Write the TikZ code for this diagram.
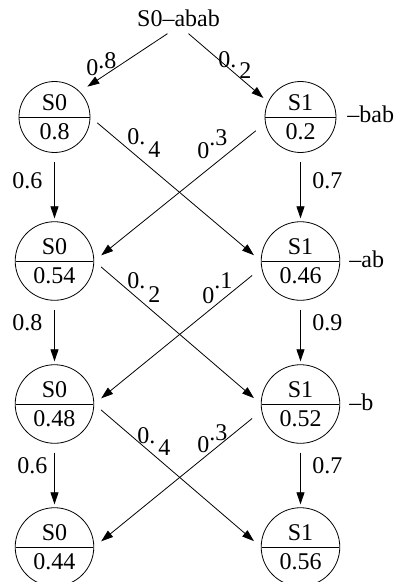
\documentclass[tikz,border=0pt]{standalone}
\usepackage{fontspec}
\setmainfont{Liberation Serif}
\usepackage{tikz}
\usetikzlibrary{arrows.meta,shapes.multipart}

\tikzset{
  prob/.style={circle split, draw, line width=0.8pt, minimum size=64pt, inner sep=6pt},
  wt/.style={anchor=base west, inner sep=0pt},
}

\begin{document}
\begin{tikzpicture}[font=\fontsize{24}{28}\selectfont, >={Triangle[length=12pt,width=8pt]}, x=1pt, y=-1pt, line width=0.8pt]
\useasboundingbox (0,0) rectangle (395,582);
\node[anchor=base, inner sep=0pt] (top) at (178.5,26) {S0--abab};
\foreach \i/\y/\p/\q in {1/117/0.8/0.2, 2/261/0.54/0.46, 3/404/0.48/0.52, 4/547/0.44/0.56} {
  \node[prob] (l\i) at (54.5,\y) {S0 \nodepart{lower} \p};
  \node[prob] (r\i) at (300.5,\y) {S1 \nodepart{lower} \q};
}
\node[wt] (w1) at (347,122) {--bab};
\node[wt] (w2) at (349,267) {--ab};
\node[wt] (w3) at (349,410) {--b};
% from the start symbol
\draw[->, shorten >=9pt] ([xshift=-11pt,yshift=-7pt]top.south) -- (l1.north east);
\draw[->, shorten >=6pt] ([xshift=10pt,yshift=-7pt]top.south) -- (r1.155);
\node[wt] at (86,75) {0\raisebox{7pt}{.8}};
\node[wt] at (218,67) {0.\kern3pt\raisebox{-11pt}{2}};
% one step per symbol
\foreach \i/\j in {1/2, 2/3, 3/4} {
  \draw[->, shorten <=9pt, shorten >=3pt] (l\i.south) -- (l\j.north);
  \draw[->, shorten <=9pt, shorten >=3pt] (r\i.south) -- (r\j.north);
  \draw[->, shorten <=9pt, shorten >=9pt] (l\i.east) -- (r\j.west);
  \draw[->, shorten <=12pt, shorten >=9pt] (r\i.190) -- (l\j.east);
}
\node[wt] at (12,188) {0.6};
\node[wt] at (312,188) {0.7};
\node[wt] at (127,144) {0.\kern3pt\raisebox{-13pt}{4}};
\node[wt] at (197,158) {0\raisebox{13pt}{.3}};
\node[wt] at (12,330) {0.8};
\node[wt] at (312,330) {0.9};
\node[wt] at (127,288) {0.\kern3pt\raisebox{-14pt}{2}};
\node[wt] at (202,303) {0\raisebox{15pt}{.1}};
\node[wt] at (17,473) {0.6};
\node[wt] at (312,473) {0.7};
\node[wt] at (137,443) {0.\kern3pt\raisebox{-12pt}{4}};
\node[wt] at (197,452) {0\raisebox{12pt}{.3}};
\end{tikzpicture}
\end{document}
